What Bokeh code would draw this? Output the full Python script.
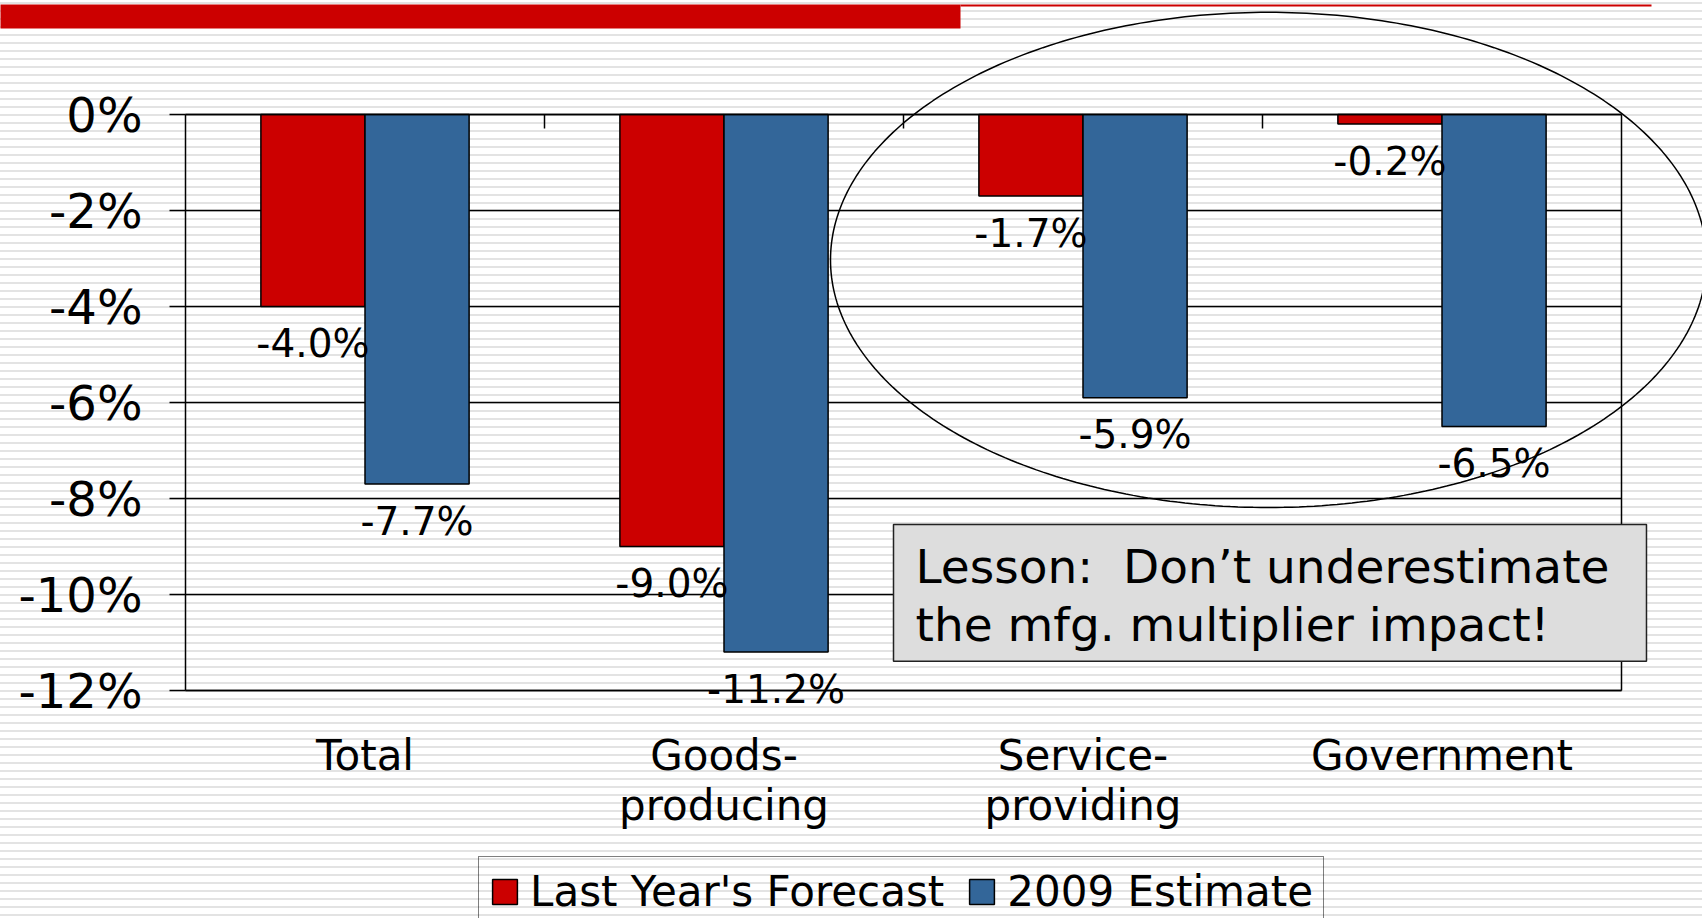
import numpy as np
from bokeh.plotting import figure
from bokeh.core.properties import value
from bokeh.models import (ColumnDataSource, Range1d, FixedTicker, PrintfTickFormatter, Grid,
                          LinearAxis, Legend, LabelSet, Label, BoxAnnotation, PolyAnnotation)
from bokeh.transform import dodge
from bokeh.embed import file_html
from bokeh.resources import INLINE

# ---- data ----
categories = ["Total", "Goods-\nproducing", "Service-\nproviding", "Government"]
last_year_forecast = [-4.0, -9.0, -1.7, -0.2]
estimate_2009 = [-7.7, -11.2, -5.9, -6.5]
series_names = ["Last Year's Forecast", "2009 Estimate"]
y_ticks = [0, -2, -4, -6, -8, -10, -12]
lesson_text = "Lesson:\u00a0 Don\u2019t underestimate\nthe mfg. multiplier impact!"

# ---- layout / styles ----
W, H = 1702, 918
PLOT_L, PLOT_R, PLOT_T, PLOT_B = 185, 1621, 114, 690   # pixel box of the value area
FONT = "DejaVu Sans"
RED = "#cc0000"
BLUE = "#336699"
BAR_W = 0.29

n = len(categories)
y_min, y_max = min(y_ticks), max(y_ticks)
px_x = (PLOT_R - PLOT_L) / n                 # pixels per category
px_y = (PLOT_B - PLOT_T) / (y_max - y_min)   # pixels per percent
X = lambda px: (px - PLOT_L) / px_x          # page pixel -> data x (for decorations)
Y = lambda py: y_max - (py - PLOT_T) / px_y  # page pixel -> data y (for decorations)

centers = [i + 0.5 for i in range(n)]
src = ColumnDataSource(dict(
    xc=centers,
    f=last_year_forecast,
    e=estimate_2009,
    f_lbl=[f"{v:.1f}%" for v in last_year_forecast],
    e_lbl=[f"{v:.1f}%" for v in estimate_2009],
))

p = figure(x_range=Range1d(X(0), X(W)), y_range=Range1d(Y(H), Y(0)),
           width=W, height=H, output_backend="svg", toolbar_location=None,
           x_axis_location=None, y_axis_location=None, min_border=0)
p.styles = {"background-image":
            "repeating-linear-gradient(to bottom, #ffffff 0px, #ffffff 2px, #e3e3e3 2px, #e3e3e3 4px, #ffffff 4px, #ffffff 8px)"}
p.border_fill_color = None
p.background_fill_color = None
p.outline_line_color = None
for g in list(p.grid):
    g.visible = False

# horizontal gridlines, limited to the value area
if "cross_bounds" in Grid.properties():
    p.add_layout(Grid(dimension=1, ticker=FixedTicker(ticks=y_ticks), cross_bounds=(0, n),
                      grid_line_color="black", grid_line_width=1.5))
else:
    p.segment(x0=0, x1=n, y0=y_ticks, y1=y_ticks, line_color="black", line_width=1.5)

r1 = p.vbar(x=dodge("xc", -BAR_W / 2), top=0, bottom="f", width=BAR_W, source=src,
            fill_color=RED, line_color="black", line_width=1.5)
r2 = p.vbar(x=dodge("xc", BAR_W / 2), top=0, bottom="e", width=BAR_W, source=src,
            fill_color=BLUE, line_color="black", line_width=1.5)

# value labels
for col, lbl, off in (("f", "f_lbl", -BAR_W / 2), ("e", "e_lbl", BAR_W / 2)):
    p.add_layout(LabelSet(x=dodge("xc", off), y=col, text=lbl, source=src,
                          y_offset=-37, text_align="center", text_baseline="middle",
                          text_font=value(FONT), text_font_size="39px", text_color="black"))

# value axis (left)
left_axis = LinearAxis(fixed_location=0, bounds=(y_min, y_max), ticker=FixedTicker(ticks=y_ticks),
                       formatter=PrintfTickFormatter(format="%d%%"),
                       major_label_text_font=FONT, major_label_text_font_size="48px",
                       major_label_text_color="black", major_tick_out=16, major_tick_in=0,
                       major_tick_line_width=1.5, minor_tick_line_color=None,
                       axis_line_color="black", axis_line_width=1.5, major_label_standoff=27)
p.add_layout(left_axis, "left")

# right border of the value area
right_axis = LinearAxis(fixed_location=n, bounds=(y_min, y_max), ticker=FixedTicker(ticks=y_ticks),
                        major_tick_line_color=None, minor_tick_line_color=None,
                        major_label_text_color=None, axis_line_color="black", axis_line_width=1.5)
p.add_layout(right_axis, "right")

# category axis (labels low, line at -12%)
bottom_axis = LinearAxis(fixed_location=y_min, bounds=(0, n), ticker=FixedTicker(ticks=centers),
                         major_label_overrides={c: name for c, name in zip(centers, categories)},
                         major_tick_line_color=None, minor_tick_line_color=None,
                         axis_line_color="black", axis_line_width=1.5,
                         major_label_text_font=FONT, major_label_text_font_size="42px",
                         major_label_text_color="black", major_label_text_line_height=1.03,
                         major_label_standoff=34)
p.add_layout(bottom_axis, "below")

# zero line with category boundary ticks
top_axis = LinearAxis(fixed_location=y_max, bounds=(0, n), ticker=FixedTicker(ticks=list(range(1, n))),
                      major_tick_in=14, major_tick_out=0, major_tick_line_width=1.5,
                      major_tick_line_color="black", axis_line_color="black", axis_line_width=1.5,
                      minor_tick_line_color=None, major_label_text_color=None)
p.add_layout(top_axis, "above")

# slide title bar decorations
p.add_layout(BoxAnnotation(left=X(-10), right=X(960), top=Y(4), bottom=Y(28),
                           fill_color=RED, fill_alpha=1, line_color=None))
p.add_layout(BoxAnnotation(left=X(960), right=X(1651), top=Y(4), bottom=Y(6),
                           fill_color=RED, fill_alpha=1, line_color=None))

# ellipse highlight
t = np.linspace(0, 2 * np.pi, 361)
cx, cy, rx, ry = X(1268), Y(259.4), 438 / px_x, 247.6 / px_y
p.add_layout(PolyAnnotation(xs=list(cx + rx * np.cos(t)), ys=list(cy + ry * np.sin(t)),
                            fill_alpha=0, line_color="black", line_alpha=1, line_width=1.5))

# lesson box
p.add_layout(Label(x=X(893), y=Y(524), text=lesson_text, anchor="top_left",
                   text_font=FONT, text_font_size="47px", text_color="black", text_line_height=1.07,
                   background_fill_color="#dddddd", background_fill_alpha=1,
                   border_line_color="#222222", border_line_width=1.5,
                   padding=dict(left=22, right=37, top=14, bottom=9)))

legend = Legend(items=[(series_names[0], [r1]), (series_names[1], [r2])], orientation="horizontal",
                location=(478, -9), margin=0, padding=10, spacing=22,
                label_text_font=FONT, label_text_font_size="42px", label_text_color="black",
                glyph_width=31, glyph_height=31, label_standoff=10,
                border_line_color="black", border_line_width=1.5, background_fill_alpha=0)
p.add_layout(legend, "center")

open("out.html", "w").write(file_html(p, INLINE))
